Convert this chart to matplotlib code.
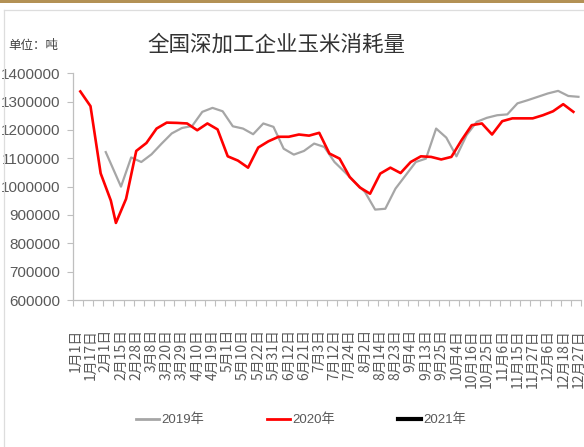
import matplotlib
matplotlib.use("Agg")
import matplotlib.pyplot as plt
from matplotlib import font_manager
from matplotlib.lines import Line2D

# ---------------- data ----------------
tick_labels = ["1月1日", "1月17日", "2月1日", "2月15日", "2月28日", "3月8日", "3月20日",
               "3月29日", "4月10日", "4月19日", "5月1日", "5月10日", "5月22日", "5月31日",
               "6月12日", "6月21日", "7月3日", "7月12日", "7月24日", "8月2日", "8月14日",
               "8月23日", "9月4日", "9月13日", "9月25日", "10月4日", "10月16日", "10月25日",
               "11月6日", "11月15日", "11月27日", "12月6日", "12月18日", "12月27日"]
n_categories = 100
label_step = 3

pos_2019 = [6, 9, 11, 13, 15, 17, 19, 21, 23, 25, 27, 29, 31, 33, 35, 37, 39, 41, 43, 45,
            47, 49, 51, 53, 55, 57, 59, 61, 63, 65, 67, 69, 71, 73, 75, 77, 79, 81, 83, 85,
            87, 89, 91, 93, 95, 97, 99]
val_2019 = [1122000, 1000000, 1103000, 1087000, 1114000, 1152000, 1188000, 1207000, 1214000,
            1264000, 1278000, 1266000, 1213000, 1205000, 1185000, 1223000, 1211000, 1134000,
            1113000, 1126000, 1152000, 1140000, 1087000, 1052000, 1016000, 981000, 919000,
            922000, 993000, 1040000, 1087000, 1099000, 1205000, 1173000, 1107000, 1182000,
            1229000, 1243000, 1252000, 1255000, 1294000, 1305000, 1317000, 1329000, 1338000,
            1320000, 1317000]

pos_2020 = [1, 3, 5, 7, 8, 10, 12, 14, 16, 18, 20, 22, 24, 26, 28, 30, 32, 34, 36, 38, 40,
            42, 44, 46, 48, 50, 52, 54, 56, 58, 60, 62, 64, 66, 68, 70, 72, 74, 76, 78, 80,
            82, 84, 86, 88, 90, 92, 94, 96, 98]
val_2020 = [1336000, 1284000, 1047000, 951000, 872000, 957000, 1126000, 1154000, 1205000,
            1226000, 1225000, 1223000, 1199000, 1223000, 1202000, 1107000, 1092000, 1067000,
            1138000, 1160000, 1176000, 1176000, 1184000, 1180000, 1190000, 1117000, 1099000,
            1034000, 997000, 975000, 1046000, 1067000, 1048000, 1087000, 1107000, 1105000,
            1096000, 1105000, 1164000, 1217000, 1223000, 1184000, 1231000, 1241000, 1241000,
            1241000, 1252000, 1266000, 1291000, 1264000]

pos_2021 = []
val_2021 = []

series_names = ["2019年", "2020年", "2021年"]
y_ticks = [600000, 700000, 800000, 900000, 1000000, 1100000, 1200000, 1300000, 1400000]

title = "全国深加工企业玉米消耗量"
unit = "单位：吨"

# ---------------- fonts ----------------
avail = {f.name for f in font_manager.fontManager.ttflist}
narrow = "Liberation Sans Narrow" if "Liberation Sans Narrow" in avail else "Liberation Sans"
cjk = "Noto Sans CJK SC"
plt.rcParams["font.family"] = [narrow, cjk, "DejaVu Sans"]

W, H = 584, 447
fig = plt.figure(figsize=(W / 100, H / 100), dpi=100)

def fx(px):
    return px / W

def fy(py):
    return 1 - py / H

ax = fig.add_axes([fx(72.7), fy(300), fx(581 - 72.7), fy(73.3) - fy(300)])

tcol = "#595959"
ax.plot(pos_2019, val_2019, color="#A6A6A6", lw=1.6, solid_joinstyle="round")
ax.plot(pos_2020, val_2020, color="#FF0000", lw=1.9, solid_joinstyle="round")
ax.plot(pos_2021, val_2021, color="#000000", lw=2.2)

ax.set_xlim(-0.5, n_categories - 0.5)
ax.set_ylim(y_ticks[0], y_ticks[-1])
ax.set_yticks(y_ticks)
ax.set_yticklabels([str(v) for v in y_ticks], fontsize=11, color=tcol,
                   family=[narrow, "DejaVu Sans"])

label_pos = list(range(0, n_categories, label_step))[:len(tick_labels)]
ax.set_xticks(label_pos)
ax.set_xticklabels(tick_labels, rotation=90, fontsize=10, color=tcol,
                   family=[cjk, "DejaVu Sans"])
ax.set_xticks([x - 0.5 for x in range(0, n_categories + 1, 2)], minor=True)
ax.tick_params(axis="x", which="major", length=0, pad=21)
ax.tick_params(axis="x", which="minor", length=4, width=0.8, color="#BFBFBF", direction="out")
ax.tick_params(axis="y", length=4, width=0.8, color="#BFBFBF", direction="out", pad=5)

for s in ["top", "right"]:
    ax.spines[s].set_visible(False)
for s in ["left", "bottom"]:
    ax.spines[s].set_color("#BFBFBF")
    ax.spines[s].set_linewidth(0.9)

# legend
handles = [Line2D([], [], color="#A6A6A6", lw=2.0),
           Line2D([], [], color="#FF0000", lw=2.0),
           Line2D([], [], color="#000000", lw=3.0)]
leg = fig.legend(handles, series_names, loc="center", bbox_to_anchor=(fx(301), fy(420)),
                 ncol=3, frameon=False, handlelength=1.75, handletextpad=0.15,
                 columnspacing=4.8, prop={"family": [narrow, cjk], "size": 9.5})
for t in leg.get_texts():
    t.set_color(tcol)

# title and unit
fig.text(fx(276), fy(45), title, ha="center", va="center", fontsize=15.5, color="#333333",
         family=[cjk], fontweight="light")
fig.text(fx(8), fy(45), unit, ha="left", va="center", fontsize=9, color="#404040",
         family=[cjk])

# decorations: gold top bar and light frame
fig.add_artist(plt.Rectangle((0, fy(3)), 1, 1 - fy(3), transform=fig.transFigure,
                             color="#B39155", lw=0))
fig.add_artist(Line2D([fx(3.5), 1], [fy(9.5), fy(9.5)], transform=fig.transFigure,
                      color="#DDDDDD", lw=0.9))
fig.add_artist(Line2D([fx(3.5), fx(3.5)], [fy(9.5), 0], transform=fig.transFigure,
                      color="#DDDDDD", lw=0.9))

fig.savefig("out.png", dpi=100)
